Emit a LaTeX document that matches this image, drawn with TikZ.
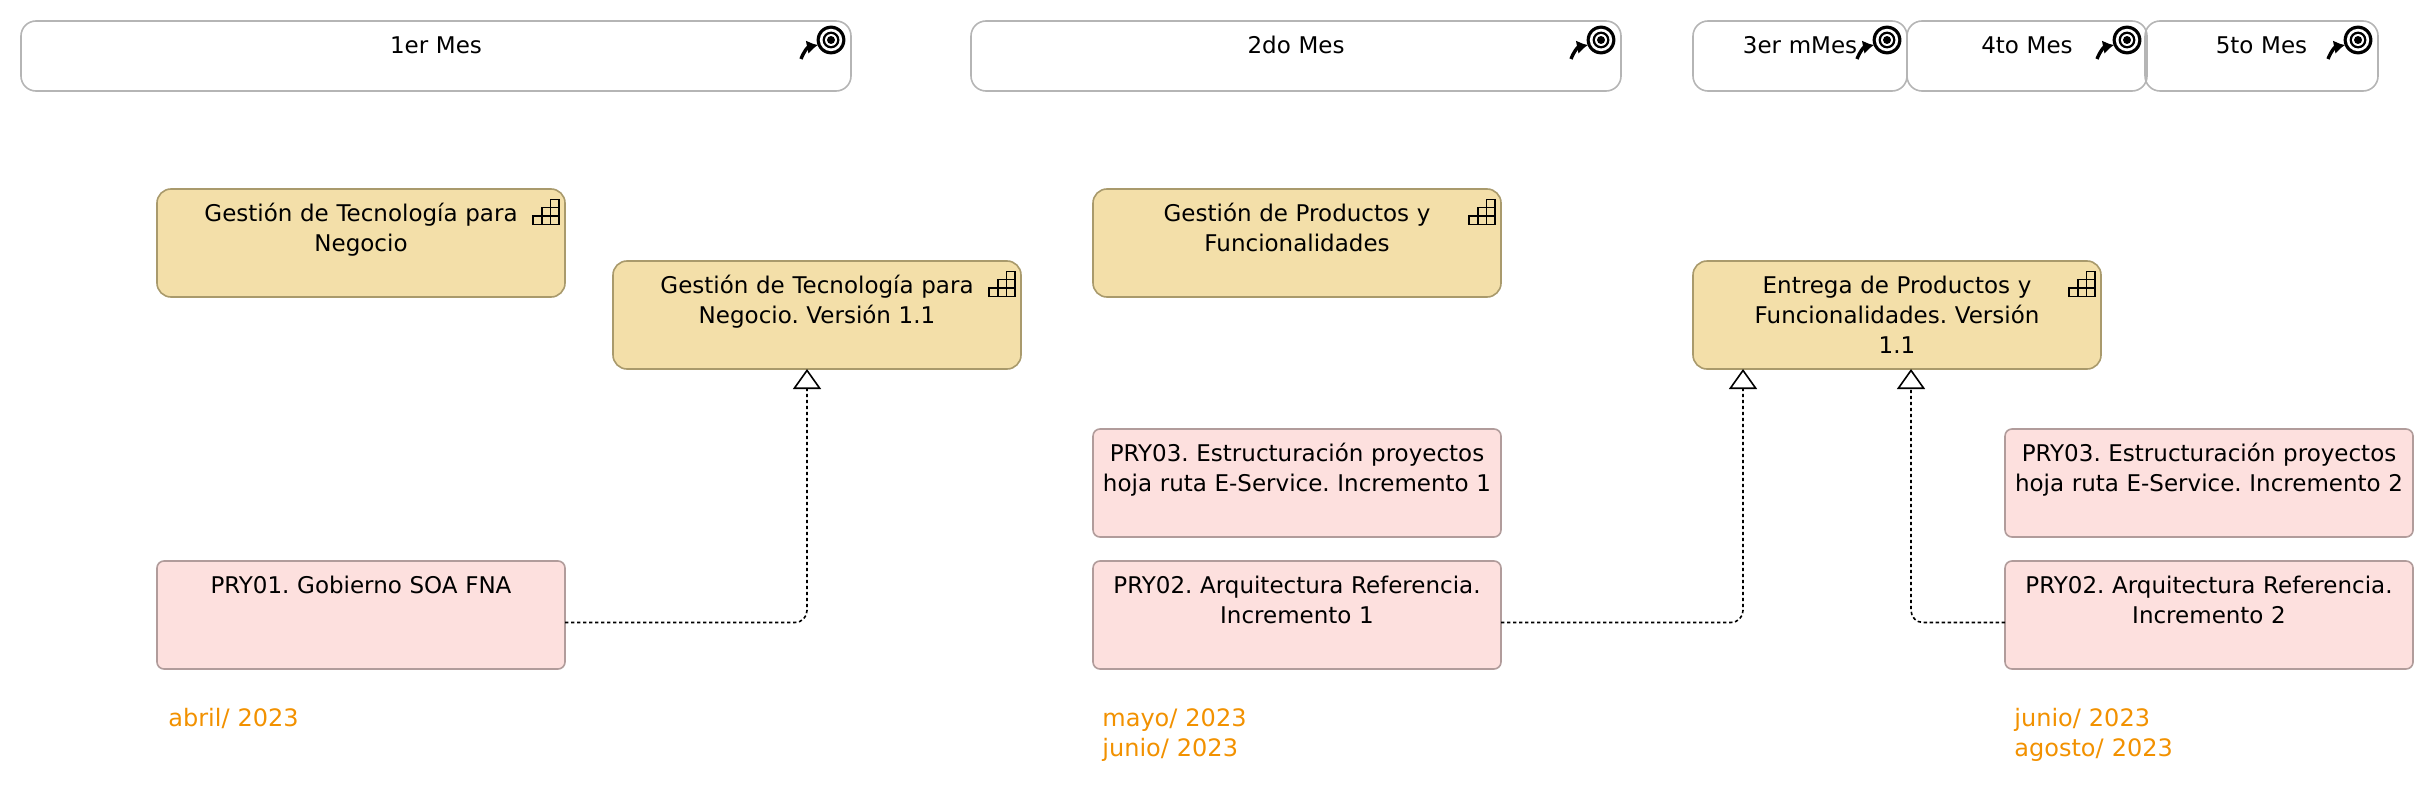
\documentclass[tikz,border=0pt]{standalone}
\usepackage{fontspec}
\setmainfont{DejaVu Sans}
\usetikzlibrary{positioning,arrows.meta}
\definecolor{amarillo}{HTML}{F3DFA9}
\definecolor{amarilloborde}{HTML}{A99A6C}
\definecolor{rosa}{HTML}{FDE0DE}
\definecolor{rosaborde}{HTML}{B19C9B}
\definecolor{gris}{HTML}{B5B5B5}
\definecolor{naranja}{HTML}{F29100}
\tikzset{
	mesbox/.style={draw=gris,line width=.8pt,rounded corners=7.5pt,anchor=north west,inner sep=0pt,outer sep=0pt,
		font=\fontsize{11.5}{15}\selectfont,align=center,text height=16.5pt,text depth=18.5pt},
	yellowbox/.style={draw=amarilloborde,fill=amarillo,line width=.8pt,rounded corners=7pt,anchor=north west,inner sep=0pt,outer sep=0pt,
		font=\fontsize{11.5}{15}\selectfont,align=center,text width=204pt,text height=16.3pt,text depth=37.7pt},
	pinkbox/.style={yellowbox,draw=rosaborde,fill=rosa,rounded corners=3.5pt},
	fechatxt/.style={anchor=base west,inner sep=0pt,text=naranja,text width=100pt,align=left,font=\fontsize{12}{15}\selectfont},
	realiza/.style={line width=.8pt,dash pattern=on 1.7pt off 1.3pt,rounded corners=6pt,
		-{Triangle[open,fill=white,length=10pt,width=14pt]}},
	metaicon/.pic={
		\fill[black] (-20,19) circle (7.2pt);
		\fill[white] (-20,19) circle (5.6pt);
		\fill[black] (-20,19) circle (4.2pt);
		\fill[white] (-20,19) circle (3pt);
		\fill[black] (-20,19) circle (2pt);
		\draw[line width=1.7pt,-{Latex[length=5.5pt,width=7pt]}] (-50,38) .. controls (-47,30) and (-43,26) .. (-33,24);
	},
	escalera/.pic={
		\draw[line width=.8pt,line join=miter] (-32,35.5) rectangle (-6,27);
		\draw[line width=.8pt] (-23.3,35.5) -- (-23.3,18.5) -- (-6,18.5) -- (-6,27);
		\draw[line width=.8pt] (-14.6,35.5) -- (-14.6,10.5) -- (-6,10.5) -- (-6,18.5);
	}
}
\begin{document}
\frenchspacing
\begin{tikzpicture}[x=.5pt,y=-.5pt]
	\useasboundingbox (0,0) rectangle (2434,808);
	% meses
	\node[mesbox,text width=415pt] (mes1) at (21,21) {1er Mes};
	\node[mesbox,text width=325pt] (mes2) at (971,21) {2do Mes};
	\node[mesbox,text width=107pt] (mes3) at (1693,21) {3er mMes};
	\node[mesbox,text width=120pt,right=0pt of mes3.north east,anchor=north west] (mes4) {4to Mes};
	\node[mesbox,text width=116.5pt,right=-1pt of mes4.north east,anchor=north west] (mes5) {5to Mes};
	\pic at (mes1.north east) {metaicon};
	\pic at (mes2.north east) {metaicon};
	\pic at (mes3.north east) {metaicon};
	\pic at (mes4.north east) {metaicon};
	\pic at (mes5.north east) {metaicon};
	% entregas
	\node[yellowbox] (gest1) at (157,189) {Gestión de Tecnología para\\Negocio};
	\node[yellowbox] (gest2) at (613,261) {Gestión de Tecnología para\\Negocio. Versión 1.1};
	\node[yellowbox] (gest3) at (1093,189) {Gestión de Productos y\\Funcionalidades};
	\node[yellowbox] (gest4) at (1693,261) {Entrega de Productos y\\Funcionalidades. Versión\\1.1};
	\pic at (gest1.north east) {escalera};
	\pic at (gest2.north east) {escalera};
	\pic at (gest3.north east) {escalera};
	\pic at (gest4.north east) {escalera};
	% proyectos
	\node[pinkbox,below=132pt of gest1.south west,anchor=north west] (pry01) {PRY01. Gobierno SOA FNA};
	\node[pinkbox,below=66pt of gest3.south west,anchor=north west] (pry03a) {PRY03. Estructuración proyectos\\hoja ruta E-Service. Incremento 1};
	\node[pinkbox,below=12pt of pry03a] (pry02a) {PRY02. Arquitectura Referencia.\\Incremento 1};
	\node[pinkbox] (pry03b) at (2005,429) {PRY03. Estructuración proyectos\\hoja ruta E-Service. Incremento 2};
	\node[pinkbox,below=12pt of pry03b] (pry02b) {PRY02. Arquitectura Referencia.\\Incremento 2};
	% fechas
	\node[fechatxt] (fecha1) at (168,726) {abril/ 2023};
	\node[fechatxt] (fecha2) at (1102,726) {mayo/ 2023\\junio/ 2023};
	\node[fechatxt] (fecha3) at (2014,726) {junio/ 2023\\agosto/ 2023};
	% relaciones
	\draw[realiza] ([yshift=-3.75pt]pry01.east) -| ([xshift=-5pt]gest2.south);
	\draw[realiza] ([yshift=-3.75pt]pry02a.east) -| ([xshift=-77pt]gest4.south);
	\draw[realiza] ([yshift=-3.75pt]pry02b.west) -| ([xshift=7pt]gest4.south);
\end{tikzpicture}
\end{document}
